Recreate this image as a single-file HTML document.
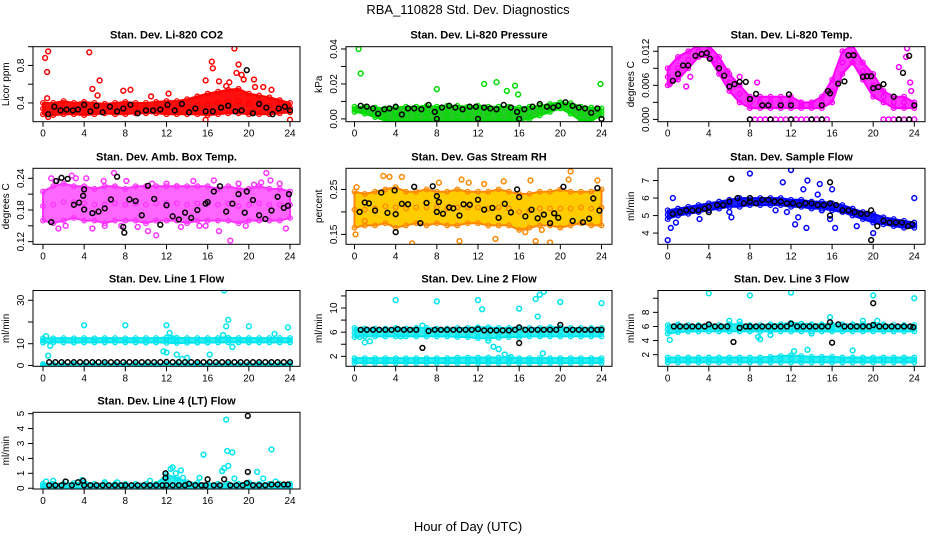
<!DOCTYPE html>
<html><head><meta charset="utf-8"><style>
body{margin:0;background:#fff;}
svg{display:block;font-family:"Liberation Sans",sans-serif;}
</style></head><body>
<svg id="c" width="936" height="540" viewBox="0 0 936 540">
<text x="468" y="14" text-anchor="middle" font-size="13">RBA_110828  Std. Dev. Diagnostics</text>
<text x="468" y="531" text-anchor="middle" font-size="13">Hour of Day (UTC)</text>
</svg>
<script>
const hours=[0,1,2,3,4,5,6,7,8,9,10,11,12,13,14,15,16,17,18,19,20,21,22,23,24];
const xTicks=[0,4,8,12,16,20,24];

// CO2
const co2Lo=[0.28,0.27,0.28,0.28,0.27,0.28,0.29,0.28,0.28,0.29,0.29,0.29,0.28,0.28,0.28,0.28,0.27,0.28,0.29,0.29,0.28,0.28,0.28,0.29,0.30];
const co2Hi=[0.40,0.40,0.42,0.40,0.41,0.40,0.39,0.40,0.41,0.40,0.40,0.41,0.42,0.42,0.44,0.47,0.50,0.52,0.54,0.55,0.50,0.48,0.46,0.43,0.40];
const co2OutX=[0.2,0.5,0.4,0.4,4.5,5.5,4.8,5.3,7.8,8.5,10.5,12.2,15.8,16.4,16.5,17.1,18.6,19.0,18.8,19.3,19.5,20.5,20.6,21.4,22.2,15.8,24.0,0.5,17.8,18.1];
const co2OutY=[0.88,0.95,0.73,0.45,0.94,0.64,0.55,0.48,0.53,0.54,0.47,0.50,0.64,0.84,0.77,0.63,0.98,0.81,0.72,0.70,0.65,0.65,0.57,0.57,0.54,0.22,0.22,0.25,0.58,0.62];
const co2BlkX=[0.5,1.1,1.7,2.3,2.9,3.4,4.0,4.6,5.2,5.8,6.5,7.2,7.8,8.5,9.2,10.0,10.7,11.4,12.1,12.8,13.5,14.2,14.8,15.8,16.5,17.3,18.0,18.7,19.3,19.8,20.4,21.0,21.7,22.3,22.9,23.5,24.0];
const co2BlkY=[0.28,0.36,0.32,0.33,0.32,0.33,0.38,0.31,0.37,0.30,0.36,0.31,0.34,0.38,0.29,0.32,0.32,0.33,0.38,0.32,0.39,0.30,0.34,0.31,0.31,0.35,0.37,0.31,0.32,0.75,0.29,0.39,0.35,0.28,0.34,0.36,0.32];

// Pressure
const prLo=[0.004,0.003,0.001,-0.001,-0.001,-0.001,-0.001,-0.001,-0.001,-0.001,-0.001,-0.001,-0.001,-0.001,-0.001,-0.001,-0.001,0.000,0.002,0.004,0.006,0.003,-0.001,-0.001,0.002];
const prHi=[0.007,0.007,0.0065,0.006,0.0065,0.007,0.007,0.0075,0.007,0.0075,0.0075,0.007,0.0075,0.007,0.007,0.007,0.0065,0.007,0.0075,0.0085,0.0095,0.009,0.007,0.0065,0.006];
const prOutX=[0.4,0.6,8.0,12.6,13.8,14.8,15.6,15.9,23.9];
const prOutY=[0.040,0.026,0.017,0.020,0.021,0.016,0.019,0.014,0.020];
const prBlkX=[0.6,1.2,1.8,2.3,2.9,3.4,4.0,4.6,5.2,5.8,6.5,7.2,7.8,8.0,8.5,9.2,9.8,10.5,11.2,11.8,12.0,12.6,13.2,13.8,14.5,15.2,15.8,16.0,16.5,17.3,18.0,18.7,19.3,19.8,20.5,21.2,21.8,22.4,23.0,23.6,24.0];
const prBlkY=[0.0075,0.007,0.006,0.003,0.0055,0.006,0.007,0.0025,0.006,0.006,0.0055,0.008,0.004,0.000,0.0065,0.0075,0.0065,0.0055,0.007,0.007,0.000,0.0065,0.006,0.0055,0.008,0.0065,0.004,0.000,0.0055,0.007,0.0085,0.007,0.0065,0.0075,0.0095,0.0075,0.0065,0.006,0.0035,0.006,0.000];

// Li-820 temp
const tpLo=[0.006,0.007,0.009,0.011,0.011,0.008,0.005,0.003,0.002,0.002,0.002,0.002,0.002,0.002,0.002,0.002,0.003,0.008,0.010,0.007,0.004,0.003,0.002,0.002,0.002];
const tpHi=[0.009,0.011,0.012,0.013,0.013,0.011,0.008,0.006,0.004,0.004,0.004,0.004,0.004,0.003,0.003,0.004,0.007,0.012,0.013,0.010,0.008,0.005,0.004,0.004,0.003];
const tpOutX=[0.2,1.8,2.2,4.6,5.8,7.0,8.7,8.0,8.5,9.0,9.5,10.0,10.5,11.0,11.5,12.0,12.5,13.0,13.5,14.0,14.5,15.0,15.5,21.0,21.5,22.0,22.5,23.0,23.5,24.0,22.5,22.6,23.2,23.3,23.6,23.7];
const tpOutY=[0.0062,0.0058,0.0075,0.0105,0.0085,0.0075,0.0065,0,0,0,0,0,0,0,0,0,0,0,0,0,0,0,0,0,0,0,0,0,0,0,0.0092,0.0135,0.011,0.0125,0.0065,0.005];
const tpBlkX=[0.5,1.0,1.5,2.0,2.7,3.3,3.8,4.1,5.0,5.5,6.0,6.5,7.0,7.6,8.0,8.6,9.2,9.8,11.0,11.8,12.0,15.0,15.6,15.8,16.6,17.2,17.6,18.1,19.0,19.4,19.8,20.0,20.5,21.0,22.0,22.9,23.5,24.0,8.0,10.0,12.0,14.0,15.0,22.5,23.5];
const tpBlkY=[0.0068,0.008,0.0095,0.0095,0.0112,0.0115,0.0117,0.0107,0.009,0.0077,0.0058,0.0062,0.0066,0.0066,0.0036,0.0045,0.0025,0.0025,0.0025,0.0044,0.0025,0.0025,0.005,0.0046,0.0063,0.0067,0.0113,0.0113,0.0075,0.0076,0.0076,0.0055,0.0057,0.0062,0.004,0.0082,0.0112,0.0025,0,0,0,0,0,0,0];

// Amb box temp
const abLo=[0.160,0.155,0.160,0.165,0.160,0.160,0.155,0.160,0.160,0.160,0.155,0.160,0.160,0.160,0.155,0.160,0.160,0.160,0.160,0.155,0.160,0.160,0.160,0.160,0.165];
const abHi=[0.215,0.225,0.230,0.225,0.225,0.220,0.225,0.225,0.220,0.225,0.225,0.225,0.225,0.225,0.225,0.225,0.225,0.220,0.225,0.220,0.220,0.225,0.220,0.220,0.215];
const abOutX=[0.8,1.5,2.8,3.2,4.2,4.8,5.9,6.9,7.6,8.1,9.2,10.6,11.0,12.0,13.4,14.6,15.2,16.6,17.1,18.2,19.7,21.2,21.7,22.1,23.0,23.6,6.0,10.2,13.0,19.0,1.2,2.2,15.8,20.5];
const abOutY=[0.240,0.145,0.245,0.240,0.240,0.145,0.235,0.250,0.150,0.235,0.148,0.230,0.132,0.230,0.148,0.235,0.150,0.236,0.140,0.122,0.150,0.232,0.250,0.236,0.230,0.145,0.150,0.140,0.225,0.230,0.235,0.150,0.150,0.228];
const abBlkX=[0.8,1.3,1.8,2.4,3.0,3.5,3.9,4.0,4.0,4.8,5.4,6.0,6.6,7.2,7.8,7.9,8.4,9.0,9.6,10.2,10.8,11.4,12.0,12.6,13.2,13.8,14.4,15.0,15.8,16.0,16.6,17.2,17.8,18.4,19.0,19.6,19.8,20.4,21.0,21.6,22.2,22.8,23.4,23.8,23.9];
const abBlkY=[0.157,0.235,0.241,0.239,0.190,0.194,0.207,0.181,0.219,0.174,0.177,0.183,0.200,0.243,0.148,0.137,0.200,0.197,0.170,0.226,0.201,0.152,0.189,0.168,0.162,0.175,0.165,0.180,0.192,0.195,0.215,0.225,0.177,0.192,0.210,0.175,0.215,0.199,0.170,0.163,0.179,0.205,0.184,0.188,0.210];

// Gas stream RH
const rhLo=[0.165,0.170,0.170,0.175,0.165,0.170,0.175,0.170,0.175,0.170,0.170,0.175,0.175,0.170,0.170,0.170,0.160,0.165,0.170,0.170,0.165,0.170,0.175,0.170,0.170];
const rhHi=[0.245,0.240,0.245,0.250,0.255,0.245,0.245,0.250,0.245,0.245,0.250,0.245,0.245,0.245,0.250,0.245,0.240,0.240,0.245,0.245,0.250,0.245,0.245,0.245,0.250];
const rhOutX=[0.1,0.2,2.8,3.4,4.6,5.6,8.2,10.2,10.4,11.1,13.7,14.5,16.6,17.6,17.1,19.0,20.8,21.0,23.6,1.0,12.6,18.2];
const rhOutY=[0.150,0.255,0.280,0.278,0.278,0.130,0.265,0.135,0.272,0.265,0.140,0.268,0.155,0.135,0.270,0.132,0.272,0.290,0.270,0.180,0.262,0.160];
const rhBlkX=[0.5,1.0,1.4,2.0,2.6,3.2,3.9,4.0,4.0,4.6,5.2,5.8,6.4,7.0,7.6,8.0,8.0,8.2,8.6,9.2,9.6,10.2,10.6,11.2,12.0,12.6,13.4,14.0,14.6,15.2,15.8,16.0,16.6,17.2,17.8,18.4,19.0,19.4,19.8,20.3,21.2,22.2,22.8,23.2,23.6,23.8];
const rhBlkY=[0.200,0.221,0.219,0.203,0.243,0.198,0.248,0.195,0.155,0.218,0.217,0.256,0.175,0.220,0.257,0.235,0.200,0.222,0.196,0.210,0.208,0.192,0.217,0.216,0.227,0.205,0.209,0.187,0.218,0.199,0.250,0.233,0.190,0.205,0.186,0.194,0.175,0.197,0.187,0.256,0.180,0.177,0.185,0.230,0.253,0.203];

// Sample flow
const sfLo=[4.8,5.0,5.1,5.2,5.3,5.4,5.5,5.5,5.6,5.6,5.6,5.6,5.5,5.5,5.4,5.4,5.3,5.2,5.0,4.8,4.6,4.5,4.4,4.3,4.3];
const sfHi=[5.3,5.4,5.5,5.6,5.7,5.8,5.9,6.0,6.0,6.0,6.0,6.0,5.9,5.9,5.8,5.8,5.7,5.6,5.4,5.2,5.1,4.9,4.8,4.7,4.6];
const sfOutX=[0.0,0.3,0.5,3.1,6.2,8.0,10.5,11.2,12.0,12.4,12.7,13.2,13.5,13.6,14.6,14.8,15.0,15.8,16.0,16.3,18.4,20.0,0.8,24.0,11.6,6.0];
const sfOutY=[3.6,4.3,6.0,4.8,4.9,7.4,5.3,6.9,7.6,4.5,4.9,6.5,4.3,7.0,6.2,6.8,5.3,4.8,6.5,4.3,4.4,4.0,4.6,6.0,5.2,5.2];
const sfBlkX=[0.5,1.2,1.8,2.4,3.0,3.6,4.0,4.0,4.8,5.4,6.0,6.2,6.8,7.4,8.0,8.0,8.6,9.2,9.8,10.4,11.0,11.6,12.2,12.8,13.4,14.0,14.6,15.2,15.8,15.8,15.8,16.4,17.0,17.6,18.2,18.8,19.4,19.8,19.8,20.4,21.0,21.6,22.2,22.8,23.4,23.8];
const sfBlkY=[5.1,5.2,5.3,5.3,5.3,5.4,5.5,5.2,5.6,5.6,5.8,7.1,6.0,5.7,5.8,6.0,5.7,5.9,5.9,5.8,5.8,5.7,5.7,5.6,5.7,5.7,5.6,5.6,5.7,6.9,5.0,5.6,5.3,5.3,5.2,5.1,5.1,5.3,3.6,4.4,4.7,4.6,4.6,4.6,4.4,4.5];

// Line 1 flow
const l1Lo=[10.5,10.6,10.6,10.5,10.6,10.6,10.6,10.6,10.6,10.6,10.5,10.6,10.4,10.3,10.4,10.5,10.5,10.6,10.6,10.6,10.6,10.6,10.6,10.6,10.6];
const l1Hi=[12.5,12.5,12.6,12.5,12.6,12.5,12.6,12.6,12.5,12.6,12.6,12.6,12.8,12.7,12.6,12.6,12.6,12.6,12.7,12.6,12.6,12.6,12.6,12.6,12.6];
const l1Lo2=[-0.3,-0.3,-0.3,-0.3,-0.3,-0.3,-0.3,-0.3,-0.3,-0.3,-0.3,-0.3,-0.3,-0.3,-0.3,-0.3,-0.3,-0.3,-0.3,-0.3,-0.3,-0.3,-0.3,-0.3,-0.3];
const l1Hi2=[0.6,0.6,0.6,0.6,0.6,0.6,0.6,0.6,0.6,0.6,0.6,0.6,0.6,0.6,0.6,0.6,0.6,0.6,0.6,0.6,0.6,0.6,0.6,0.6,0.6];
const l1OutX=[0.3,0.5,0.7,4.0,8.0,12.0,12.3,12.6,12.0,13.0,13.5,14.0,16.2,17.6,17.8,18.0,18.4,20.0,22.5,23.8,17.5,11.7];
const l1OutY=[13.5,4.5,9.0,18.5,18.5,18.5,15.0,12.5,6.0,5.0,3.0,3.5,5.0,34.5,18.0,21.0,8.5,18.0,14.5,17.5,14.0,6.5];
const l1BlkX=[0.6,1.2,1.8,2.4,3.0,3.6,4.2,4.8,5.4,6.0,6.6,7.2,7.8,8.4,9.0,9.6,10.2,10.8,11.4,12.0,12.6,13.2,13.8,14.4,15.0,15.6,16.2,16.8,17.4,18.0,18.6,19.2,19.8,20.4,21.0,21.6,22.2,22.8,23.4,24.0];
const l1BlkY=[1.5,1.5,1.5,1.5,1.5,1.5,1.5,1.5,1.5,1.5,1.5,1.5,1.5,1.5,1.5,1.5,1.5,1.5,1.5,1.6,1.5,1.5,1.5,1.5,1.5,1.5,1.5,1.5,1.5,1.5,1.5,1.5,1.5,1.5,1.5,1.5,1.5,1.5,1.5,1.5];

// Line 2 flow
const l2Lo=[5.2,5.3,5.3,5.3,5.3,5.3,5.3,5.3,5.3,5.3,5.2,5.2,5.0,5.0,5.1,5.2,5.2,5.3,5.3,5.3,5.3,5.3,5.3,5.3,5.3];
const l2Hi=[6.7,6.6,6.6,6.6,6.7,6.6,6.7,6.7,6.6,6.6,6.7,6.7,6.8,6.8,6.7,6.7,6.8,6.7,6.7,6.8,6.8,6.7,6.7,6.7,6.7];
const l2Lo2=[0.9,0.9,0.9,0.9,0.9,0.9,0.9,0.9,0.9,0.9,0.9,0.9,0.9,0.9,0.9,0.9,0.9,0.9,0.9,0.9,0.9,0.9,0.9,0.9,0.9];
const l2Hi2=[1.7,1.7,1.7,1.7,1.7,1.7,1.7,1.7,1.7,1.7,1.8,1.8,1.8,1.8,1.8,1.8,1.7,1.7,1.7,1.7,1.7,1.7,1.7,1.7,1.7];
const l2OutX=[0.5,1.0,4.0,6.6,8.0,12.0,12.4,13.0,13.5,14.0,14.6,15.2,16.0,17.8,18.0,18.2,18.3,18.4,17.6,20.0,24.0,1.5,4.5];
const l2OutY=[5.2,4.3,11.3,7.1,11.1,11.3,9.8,4.6,3.6,3.2,2.3,1.9,9.9,8.6,12.2,5.6,2.5,12.7,11.5,11.0,10.8,4.5,5.3];
const l2BlkX=[0.6,1.2,1.8,2.4,3.0,3.6,4.2,4.8,5.4,6.0,6.6,7.2,7.8,8.4,9.0,9.6,10.2,10.8,11.4,12.0,12.6,13.2,13.8,14.4,15.0,15.6,16.0,16.0,16.6,17.2,17.8,18.4,19.0,19.6,20.0,20.6,21.2,21.8,22.4,23.0,23.6,24.0];
const l2BlkY=[6.4,6.4,6.4,6.4,6.4,6.4,6.5,6.4,6.4,6.4,3.4,6.2,6.4,6.4,6.4,6.4,6.4,6.4,6.4,6.5,6.3,6.3,6.3,6.3,6.3,6.4,6.8,4.2,6.4,6.4,6.4,6.4,6.4,6.4,7.2,6.4,6.4,6.4,6.4,6.4,6.4,6.4];

// Line 3 flow
const l3Lo=[5.0,5.2,5.3,5.3,5.3,5.3,5.3,5.3,5.3,5.3,5.3,5.3,5.3,5.3,5.3,5.3,5.3,5.3,5.3,5.3,5.3,5.3,5.3,5.3,5.3];
const l3Hi=[6.2,6.3,6.2,6.2,6.3,6.2,6.3,6.3,6.2,6.2,6.3,6.3,6.5,6.4,6.3,6.3,6.3,6.3,6.3,6.3,6.3,6.3,6.2,6.2,6.2];
const l3Lo2=[0.9,0.9,0.9,0.9,0.9,0.9,0.9,0.9,0.9,0.9,0.9,0.9,0.9,0.9,0.9,0.9,0.9,0.9,0.9,0.9,0.9,0.9,0.9,0.9,0.9];
const l3Hi2=[1.6,1.6,1.6,1.6,1.6,1.6,1.6,1.6,1.6,1.6,1.7,1.8,1.9,1.8,1.7,1.7,1.7,1.6,1.6,1.6,1.6,1.6,1.6,1.6,1.6];
const l3OutX=[0.2,4.0,6.0,7.0,8.0,8.8,9.0,12.0,12.3,12.6,13.6,15.8,16.0,18.0,19.0,20.0,20.4,24.0,14.0,10.0];
const l3OutY=[4.1,10.7,6.8,6.7,10.4,4.5,4.2,10.8,2.5,5.8,2.7,7.3,5.6,2.6,6.8,10.4,6.8,10.0,5.0,4.8];
const l3BlkX=[0.6,1.2,1.8,2.4,3.0,3.6,4.0,4.6,5.2,5.8,6.4,7.0,7.6,8.0,8.6,9.2,9.8,10.4,11.0,11.6,12.0,12.6,13.2,13.8,14.4,15.0,15.6,15.8,16.0,16.6,17.2,17.8,18.4,19.0,19.6,20.0,20.0,20.6,21.2,21.8,22.4,23.0,23.6,23.9];
const l3BlkY=[6.0,6.0,6.0,6.0,6.0,6.0,6.3,6.0,6.0,6.0,3.8,5.8,6.0,6.0,6.0,6.0,6.0,6.0,6.0,6.0,6.4,6.0,6.0,6.0,6.0,6.0,6.0,6.6,3.7,6.3,6.0,6.0,6.0,6.0,6.0,9.3,6.2,6.0,6.0,6.0,6.0,6.0,6.0,5.9];

// Line 4 flow
const l4Lo=[0.05,0.05,0.05,0.05,0.05,0.05,0.05,0.05,0.05,0.05,0.05,0.05,0.05,0.05,0.05,0.05,0.05,0.05,0.05,0.05,0.05,0.05,0.05,0.05,0.05];
const l4Hi=[0.30,0.30,0.30,0.35,0.40,0.30,0.30,0.30,0.30,0.30,0.30,0.30,0.90,0.70,0.40,0.35,0.30,0.30,0.30,0.30,0.40,0.30,0.30,0.30,0.30];
const l4OutX=[0.3,1.0,2.2,3.8,6.0,7.2,10.4,12.4,12.6,12.9,13.4,13.6,15.2,15.6,17.4,17.6,17.8,17.9,18.0,18.4,18.6,20.8,21.4,22.2,22.6];
const l4OutY=[0.45,0.5,0.45,0.55,0.4,0.4,0.5,1.3,1.4,1.0,1.2,0.7,0.7,2.25,1.15,1.35,4.6,2.5,1.5,2.4,0.65,1.1,0.65,2.6,0.45];
const l4BlkX=[0.6,1.2,1.8,2.2,2.8,3.4,3.9,4.0,4.6,5.2,5.8,6.4,7.0,7.6,8.0,8.6,9.2,9.8,10.4,11.0,11.6,11.9,11.9,12.0,12.6,13.2,13.8,14.2,14.8,15.4,15.8,16.0,16.6,17.2,17.6,18.2,18.8,19.4,19.8,19.9,19.9,20.4,21.0,21.6,22.2,22.8,23.4,23.8];
const l4BlkY=[0.2,0.2,0.2,0.45,0.2,0.4,0.5,0.2,0.2,0.2,0.2,0.2,0.2,0.2,0.2,0.2,0.2,0.2,0.2,0.2,0.2,0.7,1.0,0.2,0.2,0.2,0.2,0.3,0.2,0.2,0.2,0.6,0.2,0.2,0.6,0.2,0.2,0.2,0.35,4.85,1.1,0.2,0.2,0.2,0.25,0.25,0.25,0.25];

const cols=[{l:33,r:300,x0:43,x24:290},{l:346,r:612,x0:354.5,x24:601.5},{l:658,r:925,x0:667.7,x24:914.3}];
const rows=[{t:46.7,b:121.7},{t:168.3,b:244.3},{t:290.5,b:366.3},{t:412.3,b:489}];
const panels=[
 {id:'co2',title:'Stan. Dev. Li-820 CO2',ylab:'Licor ppm',c:0,r:0,y0:0.2,y1:1.0,ticks:[0.4,0.6,0.8,1.0],labs:['0.4','','0.8',''],col:'#ff0000',fill:'#ff1010',bands:[[co2Lo,co2Hi]],ox:co2OutX,oy:co2OutY,bx:co2BlkX,by:co2BlkY},
 {id:'pressure',title:'Stan. Dev. Li-820 Pressure',ylab:'kPa',c:1,r:0,y0:-0.0016,y1:0.0413,ticks:[0,0.01,0.02,0.03,0.04],labs:['0.00','','0.02','','0.04'],col:'#00dd00',fill:'#22cc22',bands:[[prLo,prHi]],ox:prOutX,oy:prOutY,bx:prBlkX,by:prBlkY},
 {id:'li820-temp',title:'Stan. Dev. Li-820 Temp.',ylab:'degrees C',c:2,r:0,y0:-0.0004,y1:0.0128,ticks:[0,0.003,0.006,0.009,0.012],labs:['0.000','','0.006','','0.012'],col:'#ff00ff',fill:'#ff33ff',bands:[[tpLo,tpHi]],ox:tpOutX,oy:tpOutY,bx:tpBlkX,by:tpBlkY},
 {id:'amb-box-temp',title:'Stan. Dev. Amb. Box Temp.',ylab:'degrees C',c:0,r:1,y0:0.115,y1:0.259,ticks:[0.12,0.15,0.18,0.21,0.24],labs:['0.12','','0.18','','0.24'],col:'#ff33ff',fill:'#ff66ff',bands:[[abLo,abHi]],ox:abOutX,oy:abOutY,bx:abBlkX,by:abBlkY},
 {id:'gas-stream-rh',title:'Stan. Dev. Gas Stream RH',ylab:'percent',c:1,r:1,y0:0.128,y1:0.297,ticks:[0.15,0.2,0.25],labs:['0.15','','0.25'],col:'#ff8800',fill:'#ffcc00',bands:[[rhLo,rhHi]],ox:rhOutX,oy:rhOutY,bx:rhBlkX,by:rhBlkY},
 {id:'sample-flow',title:'Stan. Dev. Sample Flow',ylab:'ml/min',c:2,r:1,y0:3.36,y1:7.70,ticks:[4,5,6,7],labs:['4','5','6','7'],col:'#0000ff',fill:'#1a1aff',bands:[[sfLo,sfHi]],ox:sfOutX,oy:sfOutY,bx:sfBlkX,by:sfBlkY},
 {id:'line1-flow',title:'Stan. Dev. Line 1 Flow',ylab:'ml/min',c:0,r:2,y0:-0.4,y1:34.5,ticks:[0,10,20,30],labs:['0','10','','30'],col:'#00e5ee',fill:'#33eeee',bands:[[l1Lo,l1Hi],[l1Lo2,l1Hi2]],ox:l1OutX,oy:l1OutY,bx:l1BlkX,by:l1BlkY},
 {id:'line2-flow',title:'Stan. Dev. Line 2 Flow',ylab:'ml/min',c:1,r:2,y0:0.35,y1:12.9,ticks:[2,4,6,8,10,12],labs:['2','','6','','10',''],col:'#00e5ee',fill:'#33eeee',bands:[[l2Lo,l2Hi],[l2Lo2,l2Hi2]],ox:l2OutX,oy:l2OutY,bx:l2BlkX,by:l2BlkY},
 {id:'line3-flow',title:'Stan. Dev. Line 3 Flow',ylab:'ml/min',c:2,r:2,y0:0.35,y1:11.1,ticks:[2,4,6,8,10],labs:['2','4','6','8',''],col:'#00e5ee',fill:'#33eeee',bands:[[l3Lo,l3Hi],[l3Lo2,l3Hi2]],ox:l3OutX,oy:l3OutY,bx:l3BlkX,by:l3BlkY},
 {id:'line4-flow',title:'Stan. Dev. Line 4 (LT) Flow',ylab:'ml/min',c:0,r:3,y0:-0.05,y1:5.09,ticks:[0,1,2,3,4,5],labs:['0','1','2','3','4','5'],col:'#00e5ee',fill:'#33eeee',bands:[[l4Lo,l4Hi]],ox:l4OutX,oy:l4OutY,bx:l4BlkX,by:l4BlkY}
];
const NS='http://www.w3.org/2000/svg';
const svg=document.getElementById('c');
function mk(tag,attrs,parent){const e=document.createElementNS(NS,tag);for(const k in attrs)e.setAttribute(k,attrs[k]);(parent||svg).appendChild(e);return e;}
panels.forEach(p=>{
 const C=cols[p.c],R=rows[p.r];
 const X=h=>C.x0+h*(C.x24-C.x0)/24;
 const Y=v=>R.b-(v-p.y0)*(R.b-R.t)/(p.y1-p.y0);
 const g=mk('g',{});
 
 
 const clip=mk('clipPath',{id:'cl-'+p.id},g);
 mk('rect',{x:C.l,y:R.t,width:C.r-C.l,height:R.b-R.t},clip);
 const plot=mk('g',{'clip-path':'url(#cl-'+p.id+')'},g);
 p.bands.forEach(([lo,hi],bi)=>{
  let d='M'+hours.map((h,i)=>X(h).toFixed(1)+','+Y(hi[i]).toFixed(1)).join('L');
  d+='L'+hours.slice().reverse().map((h,j)=>{const i=hours.length-1-j;return X(h).toFixed(1)+','+Y(lo[i]).toFixed(1);}).join('L')+'Z';
  const band=mk('path',{d:d,fill:p.fill,stroke:p.col,'stroke-width':2,'stroke-linejoin':'round'},plot);
  
  
  hours.forEach((h,i)=>{[lo[i],(lo[i]+hi[i])/2,hi[i]].forEach(v=>{
   const m=mk('circle',{cx:X(h),cy:Y(v),r:2.3,fill:'none',stroke:p.col,'stroke-width':1.3},plot);
   
   
  });});
 });
 p.ox.forEach((h,i)=>{
  const m=mk('circle',{cx:X(h),cy:Y(p.oy[i]),r:2.4,fill:'none',stroke:p.col,'stroke-width':1.5},plot);
  
  
 });
 p.bx.forEach((h,i)=>{
  const m=mk('circle',{cx:X(h),cy:Y(p.by[i]),r:2.4,fill:'none',stroke:'#000','stroke-width':1.5},plot);
  
  
 });
 const box=mk('rect',{x:C.l,y:R.t,width:C.r-C.l,height:R.b-R.t,fill:'none',stroke:'#000','stroke-width':1},g);
 
 
 const t=mk('text',{x:(C.l+C.r)/2,y:R.t-8,'text-anchor':'middle','font-size':11,'font-weight':'bold'},g);
 t.textContent=p.title;
 
 
 xTicks.forEach(h=>{
  mk('line',{x1:X(h),x2:X(h),y1:R.b,y2:R.b+5,stroke:'#000'},g);
  const l=mk('text',{x:X(h),y:R.b+15,'text-anchor':'middle','font-size':10},g);
  l.textContent=h;
  
  
 });
 p.ticks.forEach((v,i)=>{
  const y=Y(v);
  mk('line',{x1:C.l-5,x2:C.l,y1:y,y2:y,stroke:'#000'},g);
  if(p.labs[i]){
   const l=mk('text',{x:C.l-9,y:y,'text-anchor':'middle','font-size':10,transform:'rotate(-90 '+(C.l-9)+' '+y+')'},g);
   l.textContent=p.labs[i];
   
   
  }
 });
 const yl=mk('text',{x:C.l-24,y:(R.t+R.b)/2,'text-anchor':'middle','font-size':10,transform:'rotate(-90 '+(C.l-24)+' '+((R.t+R.b)/2)+')'},g);
 yl.textContent=p.ylab;
 
 
});
</script>
</body></html>
